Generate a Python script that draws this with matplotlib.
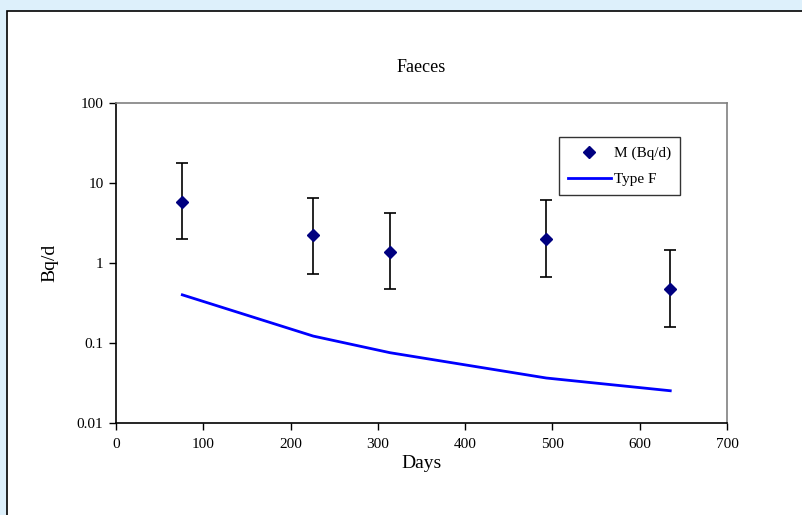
import matplotlib.pyplot as plt
import matplotlib.patches as patches

# measured faeces activity (Bq/d) with error bar limits
days = [76, 226, 314, 493, 635]
measured = [5.84, 2.24, 1.38, 2.0, 0.47]
err_high = [17.9, 6.55, 4.25, 6.13, 1.45]
err_low = [2.0, 0.73, 0.47, 0.67, 0.16]

# model curve, Type F
model = [0.40, 0.122, 0.0756, 0.0365, 0.0253]

plt.rcParams['font.family'] = ['Liberation Serif', 'DejaVu Serif']

fig = plt.figure(figsize=(8.03, 5.15), dpi=100)
fig.patch.set_facecolor('#DDF0FB')

# white chart area with black border
panel = patches.Rectangle((7 / 803, -0.01), 1.0, (515 - 11) / 515 + 0.01,
                          transform=fig.transFigure, facecolor='white',
                          edgecolor='black', linewidth=1.2, zorder=-10)
fig.patches.append(panel)

ax = fig.add_axes([116 / 803, (515 - 423) / 515, 611 / 803, 320 / 515])
ax.set_facecolor('white')

lo = [m - l for m, l in zip(measured, err_low)]
hi = [h - m for m, h in zip(measured, err_high)]
ax.errorbar(days, measured, yerr=[lo, hi], fmt='none', ecolor='black',
            elinewidth=1.2, capsize=4.5, capthick=1.2, zorder=2)
ax.plot(days, measured, linestyle='none', marker='D', markersize=6,
        color='#000080', label='M (Bq/d)', zorder=3)
ax.plot(days, model, color='#0000FF', linewidth=2, label='Type F', zorder=2)

ax.set_yscale('log')
ax.set_ylim(0.01, 100)
ax.set_xlim(0, 700)
ax.set_xticks(range(0, 701, 100))
ax.set_yticks([0.01, 0.1, 1, 10, 100])
ax.set_yticklabels(['0.01', '0.1', '1', '10', '100'])
ax.minorticks_off()

ax.tick_params(axis='both', direction='out', length=5, width=1,
               labelsize=11, color='black')
ax.tick_params(axis='x', pad=6)
ax.tick_params(axis='y', pad=4)
for side in ['left', 'bottom']:
    ax.spines[side].set_color('black')
    ax.spines[side].set_linewidth(1.2)
for side in ['top', 'right']:
    ax.spines[side].set_color('#808080')
    ax.spines[side].set_linewidth(1.2)

ax.set_title('Faeces', fontsize=13, pad=22)
ax.set_xlabel('Days', fontsize=14, labelpad=3)
ax.set_ylabel('Bq/d', fontsize=14, labelpad=13)

leg = ax.legend(loc='upper right', bbox_to_anchor=(564 / 611, 1 - 34 / 320),
                fontsize=11, frameon=True, fancybox=False, handlelength=2.8,
                borderpad=0.6, labelspacing=0.8, handletextpad=0.2,
                borderaxespad=0)
leg.get_frame().set_edgecolor('black')
leg.get_frame().set_linewidth(1)

fig.savefig('out.png', dpi=100, facecolor=fig.get_facecolor())
